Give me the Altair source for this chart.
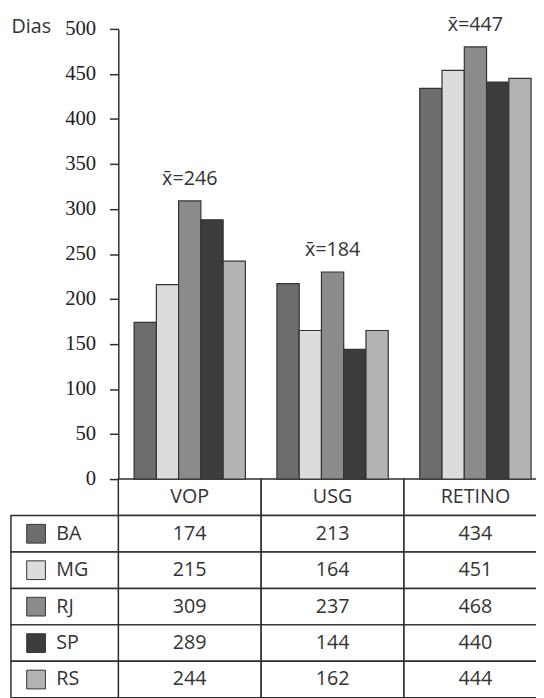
import altair as alt
import pandas as pd

# ---- data ----
groups = ["VOP", "USG", "RETINO"]
states = ["BA", "MG", "RJ", "SP", "RS"]
state_colors = ["#6d6d6d", "#dcdcdc", "#8b8b8b", "#3d3d3d", "#b3b3b3"]

# bar heights as drawn (days)
bar_vop = [174, 216, 309, 288, 242]
bar_usg = [217, 165, 230, 144, 165]
bar_retino = [434, 454, 480, 441, 445]

# values printed in the table
tab_vop = [174, 215, 309, 289, 244]
tab_usg = [213, 164, 237, 144, 162]
tab_retino = [434, 451, 468, 440, 444]

means = [246, 184, 447]
y_ticks = [0, 50, 100, 150, 200, 250, 300, 350, 400, 450, 500]
rows = ["header"] + states

# ---- tables for the library ----
bar_vals = {"VOP": bar_vop, "USG": bar_usg, "RETINO": bar_retino}
tab_vals = {"VOP": tab_vop, "USG": tab_usg, "RETINO": tab_retino}

bars_df = pd.DataFrame(
    [{"group": g, "state": s, "value": v} for g in groups for s, v in zip(states, bar_vals[g])]
)
mean_df = pd.DataFrame(
    [{"group": g, "top": max(bar_vals[g]), "label": "x\u0304=" + str(m)} for g, m in zip(groups, means)]
)
cells_df = pd.DataFrame([{"col": g, "row": r} for g in groups for r in rows])
text_df = pd.DataFrame(
    [{"col": g, "row": "header", "text": g} for g in groups]
    + [{"col": g, "row": s, "text": str(v)} for g in groups for s, v in zip(states, tab_vals[g])]
)
label_df = pd.DataFrame({"row": states, "state": states})

FONT = "Open Sans"
LINE = "#2e2e2e"
TXT = "#333333"

x_bar_scale = dict(domain=groups, range=[112, 547], paddingInner=0.2207, paddingOuter=0.1103)
y_bar_scale = dict(domain=[0, 500], range=[473, 16], nice=False, zero=True)
x_tab_scale = dict(domain=groups, range=[112, 547], paddingInner=0, paddingOuter=0)
y_tab_scale = dict(domain=rows, range=[473, 695], paddingInner=0, paddingOuter=0)
color_scale = alt.Scale(domain=states, range=state_colors)

bars = alt.Chart(bars_df).mark_bar(stroke="#333333", strokeWidth=1.2).encode(
    x=alt.X("group:N", scale=alt.Scale(**x_bar_scale), axis=None, sort=groups),
    xOffset=alt.XOffset("state:N", scale=alt.Scale(domain=states, paddingInner=0, paddingOuter=0)),
    y=alt.Y(
        "value:Q",
        scale=alt.Scale(**y_bar_scale),
        axis=alt.Axis(
            values=y_ticks, offset=-112, grid=False,
            title="Dias", titleAngle=0, titleX=-109, titleY=14,
            titleAlign="left", titleBaseline="middle",
            titleFont=FONT, titleFontSize=20, titleFontWeight="normal", titleColor=TXT,
            labelFont="Liberation Serif", labelFontSize=21, labelColor="#222222",
            labelPadding=14, tickSize=9, tickColor=LINE, tickWidth=1.5,
            domainColor=LINE, domainWidth=1.5,
        ),
    ),
    color=alt.Color("state:N", scale=color_scale, legend=None),
)

mean_text = alt.Chart(mean_df).mark_text(
    font=FONT, fontSize=20, color=TXT, baseline="middle", dy=-22
).encode(
    x=alt.X("group:N", scale=alt.Scale(**x_bar_scale), axis=None, sort=groups),
    y=alt.Y("top:Q", scale=alt.Scale(**y_bar_scale), axis=None),
    text="label:N",
)

cells = alt.Chart(cells_df).mark_rect(fill="white", stroke=LINE, strokeWidth=1.5).encode(
    x=alt.X("col:N", scale=alt.Scale(**x_tab_scale), axis=None, sort=groups),
    y=alt.Y("row:N", scale=alt.Scale(**y_tab_scale), axis=None, sort=rows),
)

label_cells = alt.Chart(label_df).mark_rect(fill="white", stroke=LINE, strokeWidth=1.5).encode(
    x=alt.value(3), x2=alt.value(112),
    y=alt.Y("row:N", scale=alt.Scale(**y_tab_scale), axis=None, sort=rows),
)

swatches = alt.Chart(label_df).mark_square(
    size=361, filled=True, opacity=1, stroke="#333333", strokeWidth=1
).encode(
    x=alt.value(28.5),
    y=alt.Y("row:N", scale=alt.Scale(**y_tab_scale), axis=None, sort=rows),
    color=alt.Color("state:N", scale=color_scale, legend=None),
)

label_text = alt.Chart(label_df).mark_text(
    font=FONT, fontSize=20, color=TXT, align="left", baseline="middle"
).encode(
    x=alt.value(49),
    y=alt.Y("row:N", scale=alt.Scale(**y_tab_scale), axis=None, sort=rows),
    text="state:N",
)

cell_text = alt.Chart(text_df).mark_text(
    font=FONT, fontSize=20, color=TXT, align="center", baseline="middle"
).encode(
    x=alt.X("col:N", scale=alt.Scale(**x_tab_scale), axis=None, sort=groups),
    y=alt.Y("row:N", scale=alt.Scale(**y_tab_scale), axis=None, sort=rows),
    text="text:N",
)

chart = (
    alt.layer(cells, label_cells, swatches, label_text, cell_text, bars, mean_text)
    .resolve_scale(x="independent", y="independent")
    .properties(width=536, height=690, autosize=alt.AutoSizeParams(type="none"), padding=0, background="white")
    .configure_view(stroke=None)
)

chart.save("out.html", embed_options={"renderer": "svg", "actions": False})
